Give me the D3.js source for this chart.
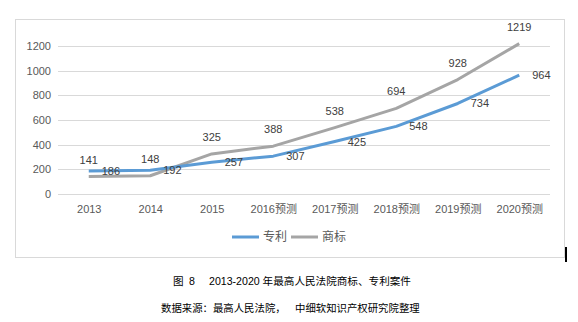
<!DOCTYPE html>
<html><head><meta charset="utf-8">
<script src="https://cdn.jsdelivr.net/npm/d3@7"></script>
<style>
html,body{margin:0;padding:0;background:#fff;}
svg text{font-family:"Liberation Sans","Noto Sans CJK SC",sans-serif;}
</style></head>
<body><svg id="c" width="578" height="322"></svg>
<script>
const categories = ["2013","2014","2015","2016预测","2017预测","2018预测","2019预测","2020预测"];
const patentValues = [186,192,257,307,425,548,734,964];      // 专利
const trademarkValues = [141,148,325,388,538,694,928,1219];   // 商标
const yTicks = [0,200,400,600,800,1000,1200];
const seriesNames = ["专利","商标"];
const captionTitleParts = ["图","8","2013-2020 年最高人民法院商标、专利案件"];
const captionSourceParts = ["数据来源：最高人民法院，","中细软知识产权研究院整理"];

const svg = d3.select("#c");
const colors = {"专利":"#5B9BD5","商标":"#A5A5A5"};

// chart frame
svg.append("rect").attr("x",15.5).attr("y",19.5).attr("width",549).attr("height",238)
  .attr("fill","#fff").attr("stroke","#D9D9D9").attr("stroke-width",1);

const x = d3.scalePoint().domain(categories).range([58,550]).padding(0.5);
const y = d3.scaleLinear().domain([0,1200]).range([194,46]);

// gridlines
svg.append("g").selectAll("line").data(yTicks).join("line")
  .attr("x1",58).attr("x2",550)
  .attr("y1",d=>Math.round(y(d))+0.5).attr("y2",d=>Math.round(y(d))+0.5)
  .attr("stroke","#D9D9D9").attr("stroke-width",1);

// y axis labels
const yAxis = d3.axisLeft(y).tickValues(yTicks).tickFormat(d3.format("d")).tickSize(0).tickPadding(0);
const gy = svg.append("g").attr("transform","translate(51,0)").call(yAxis);
gy.select(".domain").remove();
gy.selectAll("text").attr("fill","#595959").style("font-size","11px");

// x axis labels
const xAxis = d3.axisBottom(x).tickSize(0).tickPadding(0);
const gx = svg.append("g").attr("transform","translate(0,205)").call(xAxis);
gx.select(".domain").remove();
gx.selectAll("text").attr("fill","#595959").style("font-size","11px");

const line = d3.line().x((d,i)=>x(categories[i])).y(d=>y(d));

svg.append("path").datum(trademarkValues).attr("d",line)
  .attr("fill","none").attr("stroke",colors["商标"]).attr("stroke-width",3).attr("stroke-linejoin","round");
svg.append("path").datum(patentValues).attr("d",line)
  .attr("fill","none").attr("stroke",colors["专利"]).attr("stroke-width",3).attr("stroke-linejoin","round");

// data labels: trademark above, patent right
svg.append("g").selectAll("text").data(trademarkValues).join("text")
  .attr("x",(d,i)=>x(categories[i])).attr("y",d=>y(d)-13)
  .attr("text-anchor","middle").attr("fill","#404040").style("font-size","11px")
  .text(d=>d);
svg.append("g").selectAll("text").data(patentValues).join("text")
  .attr("x",(d,i)=>x(categories[i])+13).attr("y",d=>y(d)+4)
  .attr("text-anchor","start").attr("fill","#404040").style("font-size","11px")
  .text(d=>d);

// legend
const lg = svg.append("g");
const legendItems = [{n:seriesNames[0],x:232},{n:seriesNames[1],x:291}];
legendItems.forEach(it=>{
  lg.append("line").attr("x1",it.x).attr("x2",it.x+27).attr("y1",237).attr("y2",237)
    .attr("stroke",colors[it.n]).attr("stroke-width",3);
  lg.append("text").attr("x",it.x+31).attr("y",241).attr("fill","#595959")
    .style("font-size","12px").text(it.n);
});

// cursor mark
svg.append("rect").attr("x",565).attr("y",247).attr("width",2).attr("height",15).attr("fill","#000");

// captions
const t1 = svg.append("text").attr("y",285).attr("fill","#000").style("font-size","10.6px");
[173,189,209].forEach((px,i)=>t1.append("tspan").attr("x",px).text(captionTitleParts[i]));
const t2 = svg.append("text").attr("y",312).attr("fill","#000").style("font-size","10.4px");
[161,295].forEach((px,i)=>t2.append("tspan").attr("x",px).text(captionSourceParts[i]));
</script></body></html>
